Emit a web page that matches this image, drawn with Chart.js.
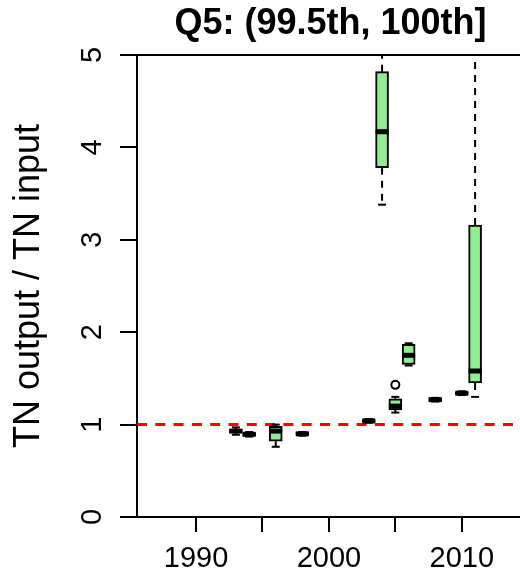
<!DOCTYPE html>
<html>
<head>
<meta charset="utf-8">
<script src="https://cdn.jsdelivr.net/npm/chart.js@4"></script>
<style>
  html, body { margin: 0; padding: 0; background: #fff; overflow: hidden; }
  #wrap { position: relative; width: 524px; height: 570px; }
</style>
</head>
<body>
<div id="wrap"><canvas id="myChart"></canvas></div>
<script>
// box statistics per year
let years   = [1993, 1994, 1996, 1998, 2003, 2004, 2005, 2006, 2008, 2010, 2011];
let whiskLo = [0.89, 0.87, 0.76, 0.88, 1.02, 3.38, 1.13, 1.64, 1.25, 1.32, 1.30];
let q1      = [0.91, 0.88, 0.82, 0.89, 1.03, 3.78, 1.16, 1.65, 1.25, 1.33, 1.45];
let med     = [0.93, 0.895, 0.93, 0.90, 1.04, 4.17, 1.20, 1.75, 1.27, 1.34, 1.58];
let q3      = [0.95, 0.91, 0.98, 0.92, 1.05, 4.82, 1.28, 1.87, 1.29, 1.35, 3.16];
let whiskHi = [0.97, 0.92, 1.00, 0.92, 1.06, 5.5, 1.30, 1.88, 1.29, 1.36, 7.0];
let outX    = [2005];
let outY    = [1.43];
let refY    = 1;
let xMin = 1985.56, xMax = 2014.68;
let yTicks  = ['0', '1', '2', '3', '4', '5'];

let ctx = document.getElementById('myChart');

function boxData() {
    return years.map((x, i) => ({ x: x, y: [q1[i], q3[i]] }));
}

function whiskerData() {
    let d = [];
    years.forEach((x, i) => {
        d.push({ x: x, y: q3[i] }, { x: x, y: whiskHi[i] }, { x: x, y: null });
        d.push({ x: x, y: q1[i] }, { x: x, y: whiskLo[i] }, { x: x, y: null });
    });
    return d;
}

function stapleData() {
    let d = [];
    years.forEach((x, i) => {
        d.push({ x: x, y: whiskLo[i] }, { x: x, y: whiskHi[i] });
    });
    return d;
}

// rotated y tick labels + top frame line
const extras = {
    id: 'extras',
    afterDraw(chart) {
        let c = chart.ctx, a = chart.chartArea, ys = chart.scales.y;
        c.save();
        c.strokeStyle = '#000';
        c.lineWidth = 2;
        c.beginPath();
        c.moveTo(a.left - 1, a.top);
        c.lineTo(a.right + 2, a.top);
        c.stroke();
        c.fillStyle = '#000';
        c.font = '29px "Liberation Sans", Arial, sans-serif';
        c.textAlign = 'center';
        c.textBaseline = 'alphabetic';
        ys.ticks.forEach((t, i) => {
            let y = ys.getPixelForValue(t.value);
            c.save();
            c.translate(101, y);
            c.rotate(-Math.PI / 2);
            c.fillText(yTicks[i], 0, 0);
            c.restore();
        });
        c.restore();
    }
};

new Chart(ctx, {
    type: 'bar',
    data: {
        datasets: [{
            type: 'line',
            data: [{ x: xMin, y: refY }, { x: xMax, y: refY }],
            borderColor: '#ff0000',
            borderWidth: 3,
            borderDash: [10, 8.3],
            pointRadius: 0,
            order: 6
        }, {
            type: 'line',
            data: whiskerData(),
            borderColor: '#000',
            borderWidth: 2,
            borderDash: [7, 6],
            pointRadius: 0,
            spanGaps: false,
            order: 5
        }, {
            type: 'bar',
            data: boxData(),
            backgroundColor: '#90ee90',
            borderColor: '#000',
            borderWidth: 2,
            borderSkipped: false,
            barThickness: 13,
            order: 4
        }, {
            type: 'scatter',
            data: stapleData(),
            pointStyle: 'line',
            radius: 4,
            borderWidth: 2,
            borderColor: '#000',
            order: 3
        }, {
            type: 'scatter',
            data: years.map((x, i) => ({ x: x, y: med[i] })),
            pointStyle: 'line',
            radius: 6.5,
            borderWidth: 5,
            borderColor: '#000',
            order: 2
        }, {
            type: 'scatter',
            data: outX.map((x, i) => ({ x: x, y: outY[i] })),
            pointStyle: 'circle',
            radius: 4,
            borderWidth: 2,
            borderColor: '#000',
            backgroundColor: 'rgba(0,0,0,0)',
            order: 1
        }]
    },
    options: {
        responsive: true,
        maintainAspectRatio: false,
        animation: false,
        events: [],
        layout: { padding: 0, autoPadding: false },
        plugins: {
            legend: { display: false },
            tooltip: { enabled: false },
            title: {
                display: true,
                fullSize: false,
                text: 'Q5: (99.5th, 100th]',
                color: '#000',
                font: { family: '"Liberation Sans", Arial, sans-serif', size: 36, weight: 'bold' },
                padding: { top: 2, bottom: 9.8 }
            }
        },
        scales: {
            x: {
                type: 'linear',
                min: xMin,
                max: xMax,
                offset: false,
                afterBuildTicks(s) { s.ticks = s.ticks.filter(t => t.value % 5 === 0); },
                afterFit(s) { s.height = 53; },
                grid: { display: true, offset: false, drawOnChartArea: false, tickLength: 15, color: '#000', lineWidth: 2 },
                border: { color: '#000', width: 2 },
                ticks: {
                    stepSize: 5,
                    includeBounds: false,
                    autoSkip: false,
                    maxRotation: 0,
                    padding: 10,
                    color: '#000',
                    font: { family: '"Liberation Sans", Arial, sans-serif', size: 29 },
                    callback: v => (v % 10 === 0 ? String(v) : '')
                }
            },
            y: {
                min: 0,
                max: 5,
                afterFit(s) { s.width = 137; },
                grid: { display: true, drawOnChartArea: false, tickLength: 17, color: '#000', lineWidth: 2 },
                border: { color: '#000', width: 2 },
                ticks: { display: false, stepSize: 1 },
                title: {
                    display: true,
                    text: 'TN output / TN input',
                    color: '#000',
                    font: { family: '"Liberation Sans", Arial, sans-serif', size: 36 },
                    padding: { top: 7, bottom: 0 }
                }
            }
        }
    },
    plugins: [extras]
});
</script>
</body>
</html>
